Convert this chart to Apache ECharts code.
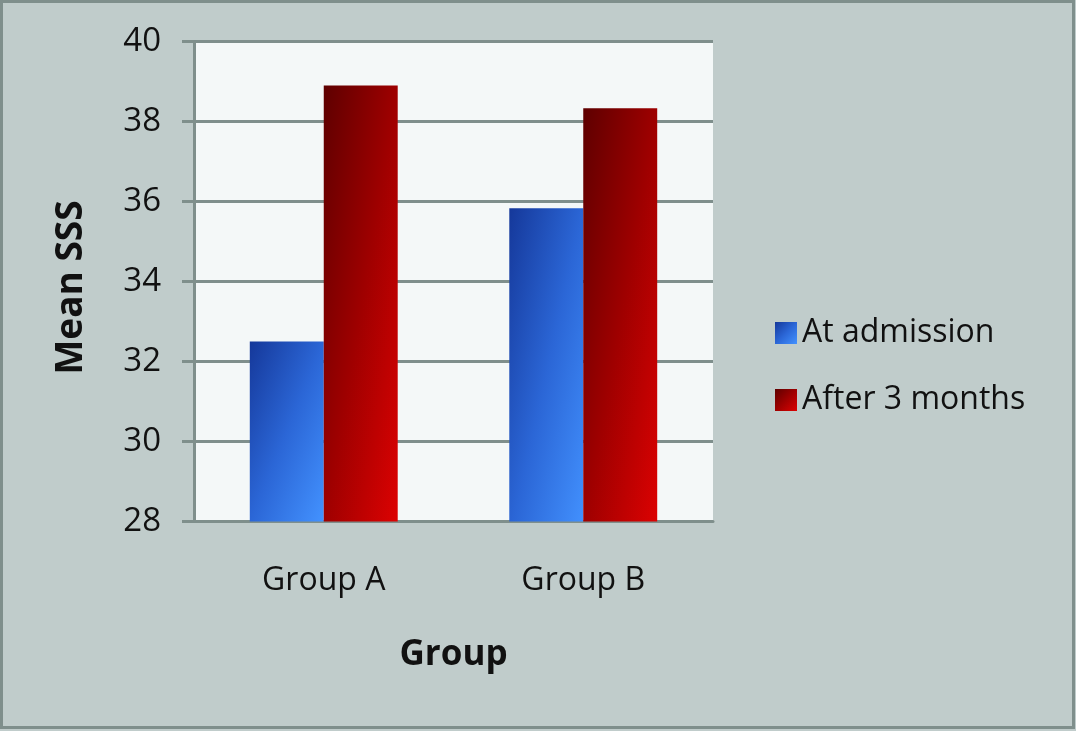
<!DOCTYPE html>
<html>
<head>
<meta charset="utf-8">
<script src="https://cdn.jsdelivr.net/npm/echarts@6/dist/echarts.min.js"></script>
<style>
html,body{margin:0;padding:0;background:#c0cccb;}
#c{width:1076px;height:731px;}
</style>
</head>
<body>
<div id="c"></div>
<script>
const categories = ['Group A', 'Group B'];
const atAdmission = [32.5, 35.83];
const after3Months = [38.9, 38.33];
const seriesNames = ['At admission', 'After 3 months'];

const FONT = '"Open Sans"';
const blueStops = [
  {offset: 0, color: '#15389a'},
  {offset: 0.5, color: '#2b66d6'},
  {offset: 1, color: '#4392ff'}
];
const redStops = [
  {offset: 0, color: '#5e0000'},
  {offset: 0.5, color: '#9e0000'},
  {offset: 1, color: '#dc0202'}
];
function grad(x2, y2, stops) {
  return new echarts.graphic.LinearGradient(0, 0, x2, y2, stops);
}
// gradient end points per bar (styling only), emulating a 45° box-relative fill
const blueEnds = [[1.71, 0.29], [1.9, 0.1]];
const redEnds = [[1.94, 0.056], [1.94, 0.062]];

const chart = echarts.init(document.getElementById('c'), null, {renderer: 'canvas'});
chart.setOption({
  backgroundColor: '#c0cccb',
  animation: false,
  textStyle: {fontFamily: FONT},
  graphic: [{
    type: 'rect',
    shape: {x: 1.5, y: 1.5, width: 1072, height: 726},
    style: {fill: null, stroke: '#7f8f8c', lineWidth: 3},
    silent: true
  }],
  grid: {
    left: 194, top: 41.5, right: 363, bottom: 209.5,
    show: true, backgroundColor: '#f4f8f8', borderWidth: 0
  },
  legend: {
    orient: 'vertical',
    left: 770, top: 312,
    itemWidth: 22, itemHeight: 22, itemGap: 35,
    icon: 'rect',
    textStyle: {fontSize: 32, color: '#111', fontFamily: FONT},
    data: seriesNames
  },
  xAxis: {
    type: 'category',
    data: categories,
    name: 'Group',
    nameLocation: 'middle',
    nameGap: 116,
    nameTextStyle: {fontSize: 35, fontWeight: 'bold', color: '#111', fontFamily: FONT},
    axisLine: {lineStyle: {color: '#7f8f8c', width: 3}},
    axisTick: {show: false},
    axisLabel: {fontSize: 32, color: '#111', margin: 43, fontFamily: FONT}
  },
  yAxis: {
    type: 'value',
    min: 28, max: 40, interval: 2,
    name: 'Mean SSS',
    nameLocation: 'middle',
    nameGap: 104,
    nameRotate: 90,
    nameTextStyle: {fontSize: 37, fontWeight: 'bold', color: '#111', fontFamily: FONT, padding: [0, 12, 0, 0]},
    axisLine: {show: true, lineStyle: {color: '#7f8f8c', width: 3}},
    axisTick: {show: true, length: 12, lineStyle: {color: '#7f8f8c', width: 3}},
    splitLine: {lineStyle: {color: '#7f8f8c', width: 3}},
    axisLabel: {fontSize: 33, color: '#111', margin: 33, fontFamily: FONT}
  },
  series: [
    {
      name: seriesNames[0], type: 'bar',
      data: atAdmission.map((v, i) => ({value: v, itemStyle: {color: grad(blueEnds[i][0], blueEnds[i][1], blueStops)}})),
      barGap: '0%', barCategoryGap: '43%',
      itemStyle: {color: grad(1, 1, blueStops)}
    },
    {
      name: seriesNames[1], type: 'bar',
      data: after3Months.map((v, i) => ({value: v, itemStyle: {color: grad(redEnds[i][0], redEnds[i][1], redStops)}})),
      barGap: '0%', barCategoryGap: '43%',
      itemStyle: {color: grad(1, 1, redStops)}
    }
  ]
});
</script>
</body>
</html>
